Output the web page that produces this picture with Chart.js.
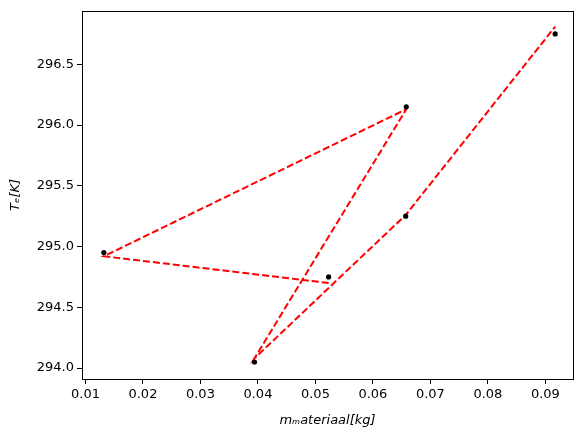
<!DOCTYPE html>
<html>
<head>
<meta charset="utf-8">
<script src="https://cdn.jsdelivr.net/npm/chart.js@4.4.0/dist/chart.umd.min.js"></script>
<style>
  html, body { margin: 0; padding: 0; background: #fff; }
  #wrap { width: 587px; height: 436px; }
</style>
</head>
<body>
<div id="wrap"><canvas id="chart"></canvas></div>
<script>
// measured points (black dots)
const massX = [0.0132, 0.0658, 0.0394, 0.0523, 0.0657, 0.0917];
const tempY = [294.95, 296.15, 294.05, 294.75, 295.25, 296.75];

// fitted line, in the order it is drawn
const fitX = [0.0523, 0.0132, 0.0658, 0.0394, 0.0657, 0.0917];
const fitY = [294.70, 294.92, 296.13, 294.08, 295.26, 296.81];

const xTicks = [0.01, 0.02, 0.03, 0.04, 0.05, 0.06, 0.07, 0.08, 0.09];
const yTicks = [294.0, 294.5, 295.0, 295.5, 296.0, 296.5];

const FONT = "'DejaVu Sans', sans-serif";

// frame round the plot area (matplotlib style box)
const frame = {
   id: "frame",
   afterDraw(chart) {
      const { ctx, chartArea: a } = chart;
      ctx.save();
      ctx.strokeStyle = "#000";
      ctx.lineWidth = 1;
      ctx.strokeRect(Math.round(a.left) + 0.5, Math.round(a.top) + 0.5,
         Math.round(a.right - a.left), Math.round(a.bottom - a.top));
      ctx.restore();
   },
};

const pts = massX.map((x, i) => ({ x: x, y: tempY[i] }));
const fit = fitX.map((x, i) => ({ x: x, y: fitY[i] }));

new Chart(document.getElementById("chart"), {
   type: "scatter",
   data: {
      datasets: [
         {
            data: fit,
            showLine: true,
            borderColor: "#ff0000",
            borderWidth: 2,
            borderDash: [7, 3],
            pointRadius: 0,
            fill: false,
            order: 2,
         },
         {
            data: pts,
            pointRadius: 2.6,
            pointBackgroundColor: "#000",
            pointBorderColor: "#000",
            pointBorderWidth: 0,
            order: 1,
         },
      ],
   },
   options: {
      responsive: true,
      maintainAspectRatio: false,
      animation: false,
      layout: { padding: { top: 9, right: 14, left: 0, bottom: 0 } },
      plugins: { legend: { display: false }, tooltip: { enabled: false } },
      scales: {
         x: {
            type: "linear",
            min: 0.0094,
            max: 0.0948,
            afterBuildTicks: (s) => { s.ticks = xTicks.map((v) => ({ value: v })); },
            afterFit: (s) => { s.height = 57; },
            grid: { drawOnChartArea: false, drawTicks: true, tickLength: 5, color: "#000" },
            border: { display: false },
            ticks: {
               color: "#000",
               padding: 3,
               maxRotation: 0,
               font: { family: FONT, size: 13 },
               callback: (v) => v.toFixed(2),
            },
            title: {
               display: true,
               text: "mₘateriaal[kg]",
               color: "#000",
               padding: { top: 2, bottom: 8 },
               font: { family: FONT, size: 13, style: "italic" },
            },
         },
         y: {
            type: "linear",
            min: 293.91,
            max: 296.94,
            afterBuildTicks: (s) => { s.ticks = yTicks.map((v) => ({ value: v })); },
            afterFit: (s) => { s.width = 82; },
            grid: { drawOnChartArea: false, drawTicks: true, tickLength: 5, color: "#000" },
            border: { display: false },
            ticks: {
               color: "#000",
               padding: 3,
               font: { family: FONT, size: 13 },
               callback: (v) => v.toFixed(1),
            },
            title: {
               display: true,
               text: "Tₑ[K]",
               color: "#000",
               padding: { top: 8, bottom: 4 },
               font: { family: FONT, size: 13, style: "italic" },
            },
         },
      },
   },
   plugins: [frame],
});
</script>
</body>
</html>
